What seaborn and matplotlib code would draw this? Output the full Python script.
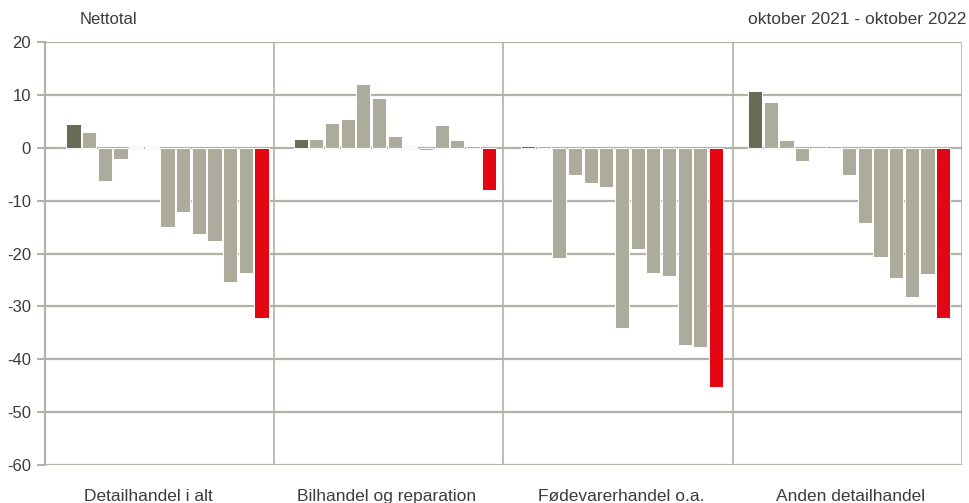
import pandas as pd
import numpy as np
import seaborn as sns
import matplotlib.pyplot as plt

groups = ["Detailhandel i alt", "Bilhandel og reparation", "Fødevarerhandel o.a.", "Anden detailhandel"]
months = ["okt21", "nov21", "dec21", "jan22", "feb22", "mar22", "apr22",
          "maj22", "jun22", "jul22", "aug22", "sep22", "okt22"]

detail_i_alt = [4.4, 3.0, -6.2, -2.2, 0.2, 0.2, -14.9, -12.2, -16.3, -17.6, -25.4, -23.6, -32.2]
bilhandel = [1.7, 1.7, 4.7, 5.4, 12.1, 9.4, 2.3, 0.2, -0.5, 4.3, 1.4, 0.3, -7.9]
foedevarer = [0.3, 0.3, -20.8, -5.1, -6.7, -7.5, -34.0, -19.2, -23.6, -24.3, -37.3, -37.7, -45.2]
anden = [10.7, 8.7, 1.4, -2.5, -0.2, 0.3, -5.2, -14.3, -20.7, -24.6, -28.3, -23.9, -32.2]

yticks = list(range(20, -70, -10))

sns.set_theme(style="white")
plt.rcParams["font.family"] = ["Liberation Sans Narrow", "Liberation Sans", "DejaVu Sans"]

text_col = "#3c3c3c"
grid_col = "#b4b2a6"

# long table: one row per bar, groups spaced 14.5 slots apart
rows = []
for g, vals in enumerate([detail_i_alt, bilhandel, foedevarer, anden]):
    for i, v in enumerate(vals):
        kind = "first" if i == 0 else ("last" if i == len(vals) - 1 else "mid")
        rows.append({"group": groups[g], "month": months[i], "pos": g * 14.5 + i,
                     "value": v, "kind": kind})
df = pd.DataFrame(rows)

fig = plt.figure(figsize=(9.69, 5.03), dpi=100)
ax = fig.add_axes([0.0464, 0.0755, 0.9464, 0.841])

sns.barplot(data=df, x="pos", y="value", hue="kind", native_scale=True, dodge=False,
            palette={"first": "#6b6a57", "mid": "#adab9b", "last": "#e30613"}, saturation=1,
            width=0.9, edgecolor="white", linewidth=0.7, legend=False, ax=ax, zorder=3)

ax.set_xlim(-1.82, 56.7)
ax.set_ylim(-60, 20)
ax.set_yticks(yticks)
ax.set_yticklabels([str(t) for t in yticks], fontsize=12, color=text_col)
ax.set_xticks([])
ax.set_xlabel("")
ax.set_ylabel("")

for t in yticks:
    ax.axhline(t, color=grid_col, lw=1.6, zorder=1)
for f in [0.25, 0.5, 0.75, 1.0]:
    ax.axvline(f * (56.7 + 1.82) - 1.82, color=grid_col, lw=1.2, zorder=2)

for s in ["top", "right", "bottom"]:
    ax.spines[s].set_visible(False)
ax.spines["left"].set_color(grid_col)
ax.spines["left"].set_linewidth(1.6)
ax.tick_params(axis="y", left=True, length=6, width=1.4, color=grid_col, pad=4)

for f, name in zip([0.113, 0.372, 0.628, 0.878], groups):
    ax.text(f, -0.075, name, transform=ax.transAxes, ha="center", va="center",
            fontsize=12.5, color=text_col)

fig.text(80 / 969, 1 - 20 / 503, "Nettotal", ha="left", va="center", fontsize=12, color=text_col)
fig.text(966 / 969, 1 - 20 / 503, "oktober 2021 - oktober 2022", ha="right", va="center",
         fontsize=12.5, color=text_col)

fig.savefig("out.png", dpi=100, facecolor="white")
